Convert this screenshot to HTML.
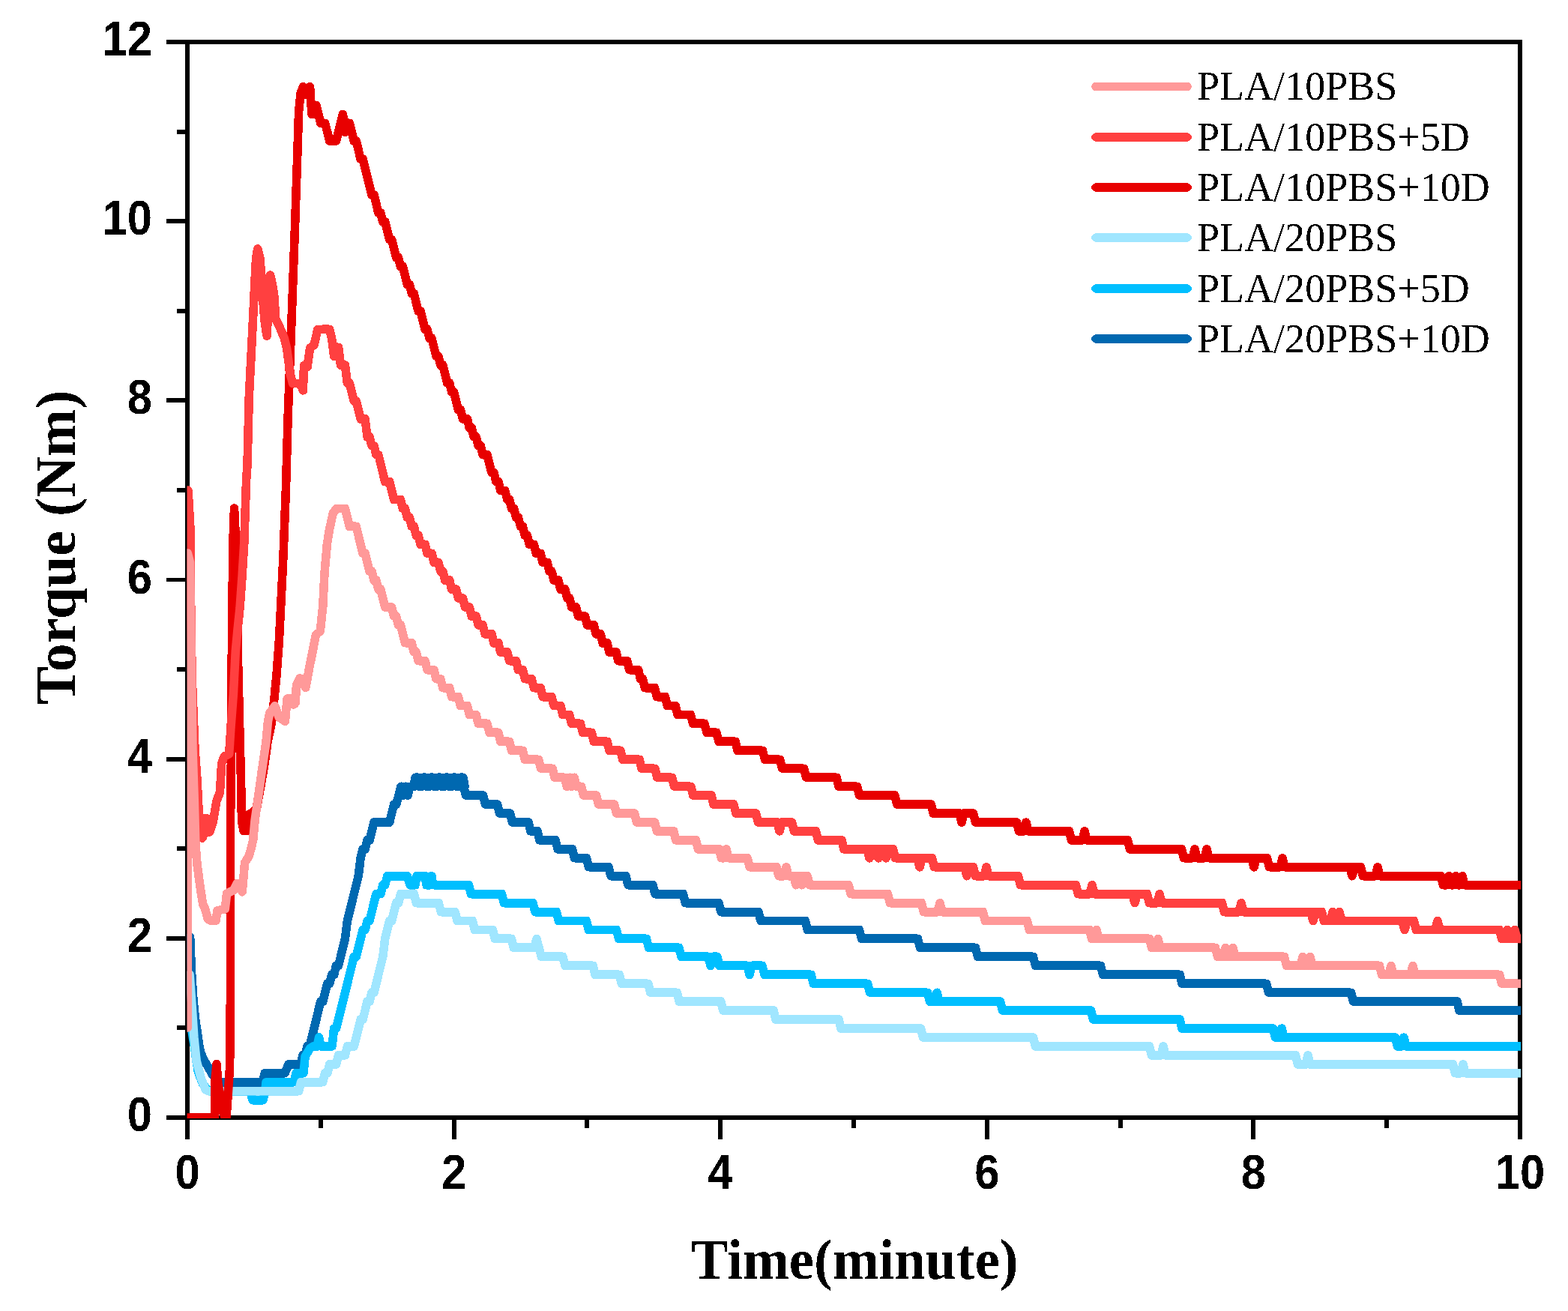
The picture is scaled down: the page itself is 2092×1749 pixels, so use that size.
<!DOCTYPE html>
<html><head><meta charset="utf-8"><title>Torque vs Time</title>
<style>html,body{margin:0;padding:0;background:#fff;}svg{display:block;}</style>
</head><body><svg width="2092" height="1749" viewBox="0 0 2092 1749"><defs><clipPath id="pc"><rect x="249.5" y="50" width="1779.5" height="1442"/></clipPath><filter id="bin" filterUnits="userSpaceOnUse" x="0" y="0" width="2092" height="1749"><feComponentTransfer><feFuncA type="discrete" tableValues="0 1"/></feComponentTransfer></filter></defs><rect width="2092" height="1749" fill="#fff"/><g filter="url(#bin)"><rect x="250" y="56" width="1778" height="1435" fill="none" stroke="#000" stroke-width="6"/><line x1="222" y1="1491.0" x2="247" y2="1491.0" stroke="#000" stroke-width="6"/><line x1="236" y1="1371.4" x2="247" y2="1371.4" stroke="#000" stroke-width="6"/><line x1="222" y1="1251.8" x2="247" y2="1251.8" stroke="#000" stroke-width="6"/><line x1="236" y1="1132.2" x2="247" y2="1132.2" stroke="#000" stroke-width="6"/><line x1="222" y1="1012.7" x2="247" y2="1012.7" stroke="#000" stroke-width="6"/><line x1="236" y1="893.1" x2="247" y2="893.1" stroke="#000" stroke-width="6"/><line x1="222" y1="773.5" x2="247" y2="773.5" stroke="#000" stroke-width="6"/><line x1="236" y1="653.9" x2="247" y2="653.9" stroke="#000" stroke-width="6"/><line x1="222" y1="534.3" x2="247" y2="534.3" stroke="#000" stroke-width="6"/><line x1="236" y1="414.8" x2="247" y2="414.8" stroke="#000" stroke-width="6"/><line x1="222" y1="295.2" x2="247" y2="295.2" stroke="#000" stroke-width="6"/><line x1="236" y1="175.6" x2="247" y2="175.6" stroke="#000" stroke-width="6"/><line x1="222" y1="56.0" x2="247" y2="56.0" stroke="#000" stroke-width="6"/><line x1="250.0" y1="1494" x2="250.0" y2="1520" stroke="#000" stroke-width="6"/><line x1="427.8" y1="1494" x2="427.8" y2="1505" stroke="#000" stroke-width="6"/><line x1="605.6" y1="1494" x2="605.6" y2="1520" stroke="#000" stroke-width="6"/><line x1="783.4" y1="1494" x2="783.4" y2="1505" stroke="#000" stroke-width="6"/><line x1="961.2" y1="1494" x2="961.2" y2="1520" stroke="#000" stroke-width="6"/><line x1="1139.0" y1="1494" x2="1139.0" y2="1505" stroke="#000" stroke-width="6"/><line x1="1316.8" y1="1494" x2="1316.8" y2="1520" stroke="#000" stroke-width="6"/><line x1="1494.6" y1="1494" x2="1494.6" y2="1505" stroke="#000" stroke-width="6"/><line x1="1672.4" y1="1494" x2="1672.4" y2="1520" stroke="#000" stroke-width="6"/><line x1="1850.2" y1="1494" x2="1850.2" y2="1505" stroke="#000" stroke-width="6"/><line x1="2028.0" y1="1494" x2="2028.0" y2="1520" stroke="#000" stroke-width="6"/><text transform="translate(203,1509.0) scale(0.98,1.05)" text-anchor="end" font-family="Liberation Sans, Arial, sans-serif" font-weight="bold" font-size="61">0</text><text transform="translate(203,1269.8) scale(0.98,1.05)" text-anchor="end" font-family="Liberation Sans, Arial, sans-serif" font-weight="bold" font-size="61">2</text><text transform="translate(203,1030.7) scale(0.98,1.05)" text-anchor="end" font-family="Liberation Sans, Arial, sans-serif" font-weight="bold" font-size="61">4</text><text transform="translate(203,791.5) scale(0.98,1.05)" text-anchor="end" font-family="Liberation Sans, Arial, sans-serif" font-weight="bold" font-size="61">6</text><text transform="translate(203,552.3) scale(0.98,1.05)" text-anchor="end" font-family="Liberation Sans, Arial, sans-serif" font-weight="bold" font-size="61">8</text><text transform="translate(203,313.2) scale(0.98,1.05)" text-anchor="end" font-family="Liberation Sans, Arial, sans-serif" font-weight="bold" font-size="61">10</text><text transform="translate(203,74.0) scale(0.98,1.05)" text-anchor="end" font-family="Liberation Sans, Arial, sans-serif" font-weight="bold" font-size="61">12</text><text transform="translate(250.0,1586) scale(0.98,1.05)" text-anchor="middle" font-family="Liberation Sans, Arial, sans-serif" font-weight="bold" font-size="61">0</text><text transform="translate(605.6,1586) scale(0.98,1.05)" text-anchor="middle" font-family="Liberation Sans, Arial, sans-serif" font-weight="bold" font-size="61">2</text><text transform="translate(961.2,1586) scale(0.98,1.05)" text-anchor="middle" font-family="Liberation Sans, Arial, sans-serif" font-weight="bold" font-size="61">4</text><text transform="translate(1316.8,1586) scale(0.98,1.05)" text-anchor="middle" font-family="Liberation Sans, Arial, sans-serif" font-weight="bold" font-size="61">6</text><text transform="translate(1672.4,1586) scale(0.98,1.05)" text-anchor="middle" font-family="Liberation Sans, Arial, sans-serif" font-weight="bold" font-size="61">8</text><text transform="translate(2028.0,1586) scale(0.98,1.05)" text-anchor="middle" font-family="Liberation Sans, Arial, sans-serif" font-weight="bold" font-size="61">10</text><text transform="translate(1140.25,1706) scale(0.966,1)" text-anchor="middle" font-family="Liberation Serif, Times New Roman, serif" font-weight="bold" font-size="77">Time(minute)</text><text transform="translate(100,730.3) rotate(-90) scale(0.985,1)" text-anchor="middle" font-family="Liberation Serif, Times New Roman, serif" font-weight="bold" font-size="77">Torque (Nm)</text><g clip-path="url(#pc)"><path d="M253.6 1250.0 L255.4 1295.0 L257.7 1331.0 L260.5 1359.0 L263.2 1377.0 L265.9 1396.0 L268.0 1405.0 L272.0 1414.0 L278.0 1424.0 L283.0 1433.0 L288.0 1440.0 L292.0 1443.8 L350.2 1443.8 L353.2 1431.8 L380.0 1431.8 L385.0 1419.9 L399.5 1419.9 L401.1 1419.9 L404.1 1407.9 L407.1 1407.9 L410.0 1395.9 L413.0 1395.9 L415.9 1384.0 L418.9 1372.0 L421.9 1360.1 L424.8 1348.1 L427.8 1336.1 L430.8 1336.1 L433.7 1324.2 L436.7 1312.2 L439.7 1312.2 L442.6 1300.3 L445.6 1300.3 L448.5 1288.3 L451.5 1288.3 L454.5 1276.4 L457.4 1264.4 L460.4 1252.4 L463.4 1228.5 L466.3 1216.6 L469.3 1204.6 L472.2 1192.6 L475.2 1180.7 L478.2 1168.7 L481.1 1144.8 L484.1 1132.9 L487.1 1132.9 L490.0 1120.9 L493.0 1120.9 L496.0 1108.9 L498.9 1097.0 L501.9 1097.0 L504.8 1097.0 L507.8 1097.0 L510.8 1097.0 L513.7 1097.0 L516.7 1097.0 L519.7 1097.0 L522.6 1085.0 L525.6 1073.1 L528.6 1073.1 L532.0 1061.1 L535.0 1049.2 L538.0 1061.1 L541.0 1049.2 L544.0 1061.1 L547.0 1049.2 L550.0 1049.2 L552.0 1049.2 L554.0 1037.2 L558.0 1037.2 L560.0 1049.2 L562.0 1049.2 L564.0 1037.2 L568.0 1037.2 L570.0 1049.2 L572.0 1049.2 L574.0 1037.2 L578.0 1037.2 L580.0 1049.2 L582.0 1049.2 L584.0 1037.2 L588.0 1037.2 L590.0 1049.2 L592.0 1049.2 L594.0 1037.2 L598.0 1037.2 L600.0 1049.2 L602.0 1049.2 L604.0 1037.2 L608.0 1037.2 L610.0 1049.2 L612.0 1049.2 L614.0 1037.2 L618.0 1037.2 L620.0 1049.2 L620.0 1049.2 L618.5 1049.2 L621.5 1061.1 L644.5 1061.1 L647.5 1073.1 L663.5 1073.1 L666.5 1085.0 L680.5 1085.0 L683.5 1097.0 L705.0 1097.0 L708.0 1108.9 L717.0 1108.9 L720.0 1120.9 L741.1 1120.9 L744.1 1132.9 L763.5 1132.9 L766.5 1144.8 L782.5 1144.8 L785.5 1156.8 L812.0 1156.8 L815.0 1168.7 L835.0 1168.7 L838.0 1180.7 L871.0 1180.7 L874.0 1192.6 L911.5 1192.6 L914.5 1204.6 L959.0 1204.6 L962.0 1216.6 L1012.0 1216.6 L1015.0 1228.5 L1074.5 1228.5 L1077.5 1240.5 L1146.5 1240.5 L1149.5 1252.4 L1224.5 1252.4 L1227.5 1264.4 L1301.5 1264.4 L1304.5 1276.4 L1378.5 1276.4 L1381.5 1288.3 L1468.5 1288.3 L1471.5 1300.3 L1574.1 1300.3 L1577.1 1312.2 L1689.5 1312.2 L1692.5 1324.2 L1802.5 1324.2 L1805.5 1336.1 L1944.0 1336.1 L1947.0 1348.1 L2032.0 1348.1" fill="none" stroke="#0068B0" stroke-width="11.6" stroke-linejoin="round" stroke-linecap="round"/><path d="M256.0 1375.0 L257.5 1385.0 L260.0 1400.0 L264.4 1430.0 L270.5 1446.0 L276.0 1453.0 L282.0 1455.7 L334.0 1455.7 L337.0 1467.7 L351.0 1467.7 L354.0 1455.7 L355.0 1443.8 L392.0 1443.8 L395.0 1431.8 L405.0 1431.8 L407.1 1409.5 L413.6 1398.6 L418.0 1395.9 L423.0 1395.9 L425.6 1384.0 L428.0 1395.9 L443.0 1395.9 L445.6 1372.0 L448.5 1372.0 L451.5 1360.1 L454.5 1348.1 L457.4 1336.1 L460.4 1324.2 L463.4 1312.2 L466.3 1300.3 L469.3 1288.3 L472.2 1276.4 L475.2 1276.4 L478.2 1264.4 L481.1 1252.4 L484.1 1240.5 L487.1 1240.5 L490.0 1228.5 L493.0 1228.5 L496.0 1216.6 L498.9 1204.6 L501.9 1192.6 L504.8 1192.6 L507.8 1192.6 L510.8 1180.7 L513.7 1180.7 L516.7 1168.7 L519.7 1168.7 L522.6 1168.7 L525.6 1168.7 L528.6 1168.7 L531.5 1168.7 L534.5 1168.7 L537.4 1168.7 L540.4 1168.7 L543.4 1168.7 L547.0 1180.7 L554.0 1180.7 L556.0 1168.7 L567.0 1168.7 L569.0 1180.7 L574.0 1180.7 L576.0 1168.7 L575.3 1168.7 L578.3 1180.7 L625.5 1180.7 L628.5 1192.6 L669.5 1192.6 L672.5 1204.6 L711.0 1204.6 L714.0 1216.6 L742.5 1216.6 L745.5 1228.5 L782.5 1228.5 L785.5 1240.5 L822.5 1240.5 L825.5 1252.4 L862.5 1252.4 L865.5 1264.4 L906.0 1264.4 L909.0 1276.4 L945.0 1276.4 L948.0 1288.3 L951.0 1276.4 L956.8 1276.4 L959.8 1288.3 L997.0 1288.3 L1000.0 1300.3 L1003.0 1288.3 L1017.0 1288.3 L1020.0 1300.3 L1082.2 1300.3 L1085.2 1312.2 L1157.5 1312.2 L1160.5 1324.2 L1237.5 1324.2 L1240.5 1336.1 L1247.0 1336.1 L1250.0 1324.2 L1253.0 1336.1 L1334.5 1336.1 L1337.5 1348.1 L1455.5 1348.1 L1458.5 1360.1 L1574.1 1360.1 L1577.1 1372.0 L1698.5 1372.0 L1701.5 1384.0 L1707.0 1384.0 L1710.0 1372.0 L1713.0 1384.0 L1861.5 1384.0 L1864.5 1395.9 L1870.0 1395.9 L1873.0 1384.0 L1876.0 1395.9 L2032.0 1395.9" fill="none" stroke="#00BFFF" stroke-width="11.6" stroke-linejoin="round" stroke-linecap="round"/><path d="M253.0 1300.0 L255.8 1338.0 L258.9 1384.0 L262.0 1415.0 L268.1 1438.0 L274.3 1453.8 L278.0 1455.7 L398.5 1455.7 L401.5 1443.8 L430.5 1443.8 L433.5 1431.8 L436.7 1431.8 L439.7 1419.9 L442.6 1419.9 L445.6 1419.9 L448.5 1419.9 L451.5 1407.9 L454.5 1407.9 L457.4 1407.9 L460.4 1407.9 L463.4 1395.9 L466.3 1395.9 L469.3 1395.9 L472.2 1395.9 L475.2 1384.0 L478.2 1372.0 L481.1 1360.1 L484.1 1360.1 L487.1 1348.1 L490.0 1336.1 L493.0 1336.1 L496.0 1324.2 L498.9 1324.2 L501.9 1312.2 L504.8 1300.3 L507.8 1288.3 L510.8 1276.4 L513.7 1252.4 L516.7 1240.5 L519.7 1228.5 L522.6 1228.5 L525.6 1216.6 L528.6 1204.6 L531.5 1204.6 L534.5 1192.6 L537.4 1192.6 L540.4 1192.6 L543.4 1192.6 L546.3 1192.6 L549.3 1192.6 L552.5 1192.6 L555.5 1204.6 L585.3 1204.6 L588.3 1216.6 L607.1 1216.6 L610.1 1228.5 L630.5 1228.5 L633.5 1240.5 L657.3 1240.5 L660.3 1252.4 L682.4 1252.4 L685.4 1264.4 L713.0 1264.4 L716.0 1252.4 L719.0 1264.4 L719.2 1264.4 L722.2 1276.4 L751.0 1276.4 L754.0 1288.3 L791.1 1288.3 L794.1 1300.3 L826.3 1300.3 L829.3 1312.2 L864.7 1312.2 L867.7 1324.2 L903.2 1324.2 L906.2 1336.1 L961.8 1336.1 L964.8 1348.1 L1032.0 1348.1 L1035.0 1360.1 L1119.0 1360.1 L1122.0 1372.0 L1228.5 1372.0 L1231.5 1384.0 L1378.5 1384.0 L1381.5 1395.9 L1533.5 1395.9 L1536.5 1407.9 L1549.0 1407.9 L1552.0 1395.9 L1555.0 1407.9 L1728.5 1407.9 L1731.5 1419.9 L1742.0 1419.9 L1745.0 1407.9 L1748.0 1419.9 L1938.5 1419.9 L1941.5 1431.8 L1949.0 1431.8 L1952.0 1419.9 L1955.0 1431.8 L2032.0 1431.8" fill="none" stroke="#A0E6FF" stroke-width="11.6" stroke-linejoin="round" stroke-linecap="round"/><path d="M250.0 1491.0 L286.5 1491.0 L287.0 1440.0 L289.0 1419.5 L291.0 1446.0 L293.4 1461.0 L297.0 1480.0 L300.0 1491.0 L302.0 1491.0 L304.5 1455.0 L306.5 1425.0 L307.2 1380.0 L307.4 1300.0 L307.5 1100.0 L308.5 1000.0 L309.5 840.0 L311.0 720.0 L312.5 678.0 L314.5 720.0 L316.0 800.0 L317.5 880.0 L320.0 983.0 L321.5 1040.0 L322.5 1095.0 L325.0 1108.5 L329.0 1108.5 L331.0 1100.0 L333.0 1086.0 L337.0 1084.0 L342.3 1078.0 L348.0 1048.0 L352.8 1020.0 L357.0 990.0 L362.0 966.0 L365.5 935.8 L368.9 901.5 L372.3 855.8 L374.6 810.0 L378.0 741.5 L381.5 650.0 L384.0 560.0 L387.0 480.0 L390.0 400.0 L393.6 300.0 L396.4 217.0 L398.6 149.0 L401.0 125.0 L404.4 115.5 L407.8 126.0 L411.0 118.0 L413.5 115.5 L415.9 152.3 L418.9 152.3 L421.9 140.3 L424.8 152.3 L427.8 164.3 L430.8 164.3 L433.7 164.3 L436.7 176.2 L439.7 188.2 L442.6 188.2 L445.6 188.2 L448.5 188.2 L451.5 176.2 L454.5 164.3 L457.4 152.3 L460.4 176.2 L463.4 164.3 L466.3 164.3 L469.3 176.2 L472.2 188.2 L475.2 188.2 L478.2 200.1 L481.1 212.1 L484.1 212.1 L487.1 224.1 L490.0 236.0 L493.0 248.0 L496.0 259.9 L498.9 259.9 L501.9 271.9 L504.8 283.8 L507.8 283.8 L510.8 295.8 L513.7 295.8 L516.7 307.8 L519.7 319.7 L522.6 319.7 L525.6 331.7 L528.6 343.6 L531.5 343.6 L534.5 355.6 L537.4 355.6 L540.4 367.5 L543.4 379.5 L546.3 379.5 L549.3 391.5 L552.3 391.5 L555.2 403.4 L558.2 415.4 L561.1 415.4 L564.1 427.3 L567.1 439.3 L570.0 439.3 L573.0 451.3 L576.0 451.3 L578.9 463.2 L581.9 475.2 L584.9 475.2 L587.8 487.1 L590.8 487.1 L593.7 499.1 L596.7 511.0 L599.7 511.0 L602.6 523.0 L605.6 523.0 L608.6 535.0 L611.5 546.9 L614.5 546.9 L617.5 558.9 L620.4 558.9 L623.4 558.9 L626.3 570.8 L629.3 570.8 L632.3 582.8 L635.2 582.8 L638.2 594.7 L641.2 594.7 L644.1 606.7 L647.1 606.7 L650.0 606.7 L653.0 618.7 L656.0 630.6 L658.9 630.6 L661.9 642.6 L664.9 642.6 L667.8 654.5 L670.8 654.5 L673.8 654.5 L676.7 666.5 L679.7 666.5 L682.6 678.5 L685.6 678.5 L688.6 690.4 L691.5 690.4 L694.5 702.4 L697.5 702.4 L700.4 714.3 L703.4 714.3 L706.4 726.3 L709.3 726.3 L712.3 726.3 L715.2 738.2 L718.2 738.2 L721.2 738.2 L724.1 750.2 L727.1 750.2 L730.1 750.2 L733.0 762.2 L736.0 762.2 L739.0 774.1 L741.9 774.1 L744.9 774.1 L747.8 786.1 L750.8 786.1 L753.8 786.1 L756.7 798.0 L759.7 798.0 L762.7 810.0 L765.6 810.0 L768.6 810.0 L771.5 822.0 L774.5 822.0 L777.5 822.0 L780.4 822.0 L783.4 833.9 L786.4 833.9 L789.3 833.9 L792.3 833.9 L795.3 845.9 L798.2 845.9 L801.2 845.9 L804.1 857.8 L807.1 857.8 L810.1 857.8 L813.0 869.8 L816.0 869.8 L819.0 869.8 L821.9 869.8 L824.9 881.7 L827.9 881.7 L830.8 881.7 L833.8 881.7 L836.7 881.7 L839.7 893.7 L842.7 893.7 L845.6 893.7 L848.6 893.7 L851.6 893.7 L854.5 905.7 L857.5 905.7 L860.5 917.6 L873.5 917.6 L876.5 929.6 L887.5 929.6 L890.5 941.5 L901.1 941.5 L904.1 953.5 L921.5 953.5 L924.5 965.4 L940.0 965.4 L943.0 977.4 L956.0 977.4 L959.0 989.4 L981.1 989.4 L984.1 1001.3 L1017.5 1001.3 L1020.5 1013.3 L1040.5 1013.3 L1043.5 1025.2 L1072.5 1025.2 L1075.5 1037.2 L1116.1 1037.2 L1119.1 1049.2 L1143.5 1049.2 L1146.5 1061.1 L1193.8 1061.1 L1196.8 1073.1 L1242.2 1073.1 L1245.2 1085.0 L1280.0 1085.0 L1283.0 1097.0 L1286.0 1085.0 L1298.5 1085.0 L1301.5 1097.0 L1356.5 1097.0 L1359.5 1108.9 L1366.0 1108.9 L1369.0 1097.0 L1372.0 1108.9 L1426.5 1108.9 L1429.5 1120.9 L1444.0 1120.9 L1447.0 1108.9 L1450.0 1120.9 L1504.5 1120.9 L1507.5 1132.9 L1576.5 1132.9 L1579.5 1144.8 L1591.0 1144.8 L1594.0 1132.9 L1597.0 1144.8 L1607.0 1144.8 L1610.0 1132.9 L1613.0 1144.8 L1670.0 1144.8 L1673.0 1156.8 L1676.0 1144.8 L1690.5 1144.8 L1693.5 1156.8 L1708.0 1156.8 L1711.0 1144.8 L1714.0 1156.8 L1801.0 1156.8 L1804.0 1168.7 L1807.0 1156.8 L1815.5 1156.8 L1818.5 1168.7 L1835.0 1168.7 L1838.0 1156.8 L1841.0 1168.7 L1922.5 1168.7 L1925.5 1180.7 L1930.0 1180.7 L1933.0 1168.7 L1936.0 1180.7 L1939.0 1180.7 L1942.0 1168.7 L1945.0 1180.7 L1948.0 1180.7 L1951.0 1168.7 L1954.0 1180.7 L2032.0 1180.7" fill="none" stroke="#E80000" stroke-width="11.6" stroke-linejoin="round" stroke-linecap="round"/><path d="M251.0 654.0 L253.7 700.0 L254.5 800.0 L256.0 900.0 L260.0 1000.0 L263.0 1040.0 L265.0 1080.0 L268.0 1110.0 L270.0 1118.0 L273.0 1110.0 L275.2 1091.5 L279.7 1109.8 L284.3 1096.0 L288.9 1068.6 L293.4 1057.2 L295.7 1018.3 L299.2 1009.0 L303.7 1006.9 L305.7 1005.7 L308.0 970.0 L311.4 925.7 L314.3 868.6 L317.0 840.0 L320.0 811.4 L323.0 770.0 L325.7 725.7 L328.6 640.0 L330.0 620.0 L332.3 528.7 L335.8 460.0 L339.2 391.5 L341.5 345.7 L343.8 332.0 L347.0 345.0 L350.0 390.0 L353.0 428.0 L356.0 448.0 L358.0 410.0 L359.5 375.0 L360.5 367.0 L362.5 375.0 L365.5 391.5 L367.8 425.8 L373.5 437.2 L379.2 451.0 L382.6 464.6 L387.2 499.0 L390.6 511.5 L398.6 511.5 L402.0 515.0 L404.4 520.9 L405.5 487.5 L410.0 489.8 L413.5 464.6 L419.2 460.0 L423.8 439.5 L430.6 439.3 L433.7 439.3 L436.7 439.3 L439.7 439.3 L442.6 451.3 L445.6 475.2 L448.5 463.2 L451.5 463.2 L454.5 487.1 L457.4 487.1 L460.4 487.1 L463.4 511.0 L466.3 511.0 L469.3 523.0 L472.2 535.0 L475.2 535.0 L478.2 546.9 L481.1 558.9 L484.1 558.9 L487.1 558.9 L490.0 582.8 L493.0 582.8 L496.0 594.7 L498.9 594.7 L501.9 606.7 L504.8 606.7 L507.8 618.7 L510.8 630.6 L513.7 642.6 L516.7 642.6 L519.7 642.6 L522.6 654.5 L525.6 666.5 L528.6 666.5 L531.5 666.5 L534.5 666.5 L537.4 678.5 L540.4 678.5 L543.4 690.4 L546.3 690.4 L549.3 702.4 L552.3 702.4 L555.2 714.3 L558.2 714.3 L561.1 726.3 L564.1 726.3 L567.1 726.3 L570.0 738.2 L573.0 738.2 L576.0 738.2 L578.9 750.2 L581.9 750.2 L584.9 750.2 L587.8 762.2 L590.8 762.2 L593.7 774.1 L596.7 774.1 L599.7 774.1 L602.6 786.1 L605.6 786.1 L608.6 786.1 L611.5 798.0 L614.5 798.0 L617.5 798.0 L620.4 810.0 L623.4 810.0 L626.3 810.0 L629.3 822.0 L632.3 822.0 L635.2 822.0 L638.2 833.9 L641.2 833.9 L644.1 833.9 L647.1 845.9 L650.0 845.9 L653.0 845.9 L656.0 845.9 L658.9 857.8 L661.9 857.8 L664.9 857.8 L667.8 869.8 L670.8 869.8 L673.8 869.8 L676.7 869.8 L679.7 881.7 L682.6 881.7 L685.6 881.7 L688.6 881.7 L691.5 893.7 L694.5 893.7 L697.5 893.7 L700.4 905.7 L703.4 905.7 L706.4 905.7 L709.3 905.7 L712.3 917.6 L715.2 917.6 L718.2 917.6 L721.2 917.6 L724.1 929.6 L727.1 929.6 L730.1 929.6 L733.0 929.6 L736.0 929.6 L739.0 941.5 L741.9 941.5 L744.9 941.5 L747.8 941.5 L750.8 953.5 L753.8 953.5 L756.7 953.5 L759.7 953.5 L762.7 965.4 L765.6 965.4 L768.6 965.4 L771.5 965.4 L774.5 965.4 L777.5 977.4 L780.4 977.4 L783.4 977.4 L786.4 977.4 L789.3 977.4 L792.3 989.4 L795.3 989.4 L798.2 989.4 L801.2 989.4 L804.1 989.4 L807.1 989.4 L810.1 989.4 L813.0 1001.3 L816.0 1001.3 L819.0 1001.3 L821.9 1001.3 L824.9 1001.3 L827.9 1001.3 L830.8 1013.3 L833.8 1013.3 L836.7 1013.3 L839.7 1013.3 L842.7 1013.3 L845.6 1013.3 L848.6 1013.3 L851.6 1013.3 L853.1 1013.3 L856.1 1025.2 L873.7 1025.2 L876.7 1037.2 L896.5 1037.2 L899.5 1049.2 L921.7 1049.2 L924.7 1061.1 L949.1 1061.1 L952.1 1073.1 L978.9 1073.1 L981.9 1085.0 L1008.5 1085.0 L1011.5 1097.0 L1037.0 1097.0 L1040.0 1108.9 L1043.0 1097.0 L1056.5 1097.0 L1059.5 1108.9 L1088.5 1108.9 L1091.5 1120.9 L1122.9 1120.9 L1125.9 1132.9 L1157.0 1132.9 L1160.0 1144.8 L1163.0 1132.9 L1169.0 1132.9 L1172.0 1144.8 L1175.0 1132.9 L1179.0 1132.9 L1182.0 1144.8 L1185.0 1132.9 L1191.5 1132.9 L1194.5 1144.8 L1224.0 1144.8 L1227.0 1156.8 L1230.0 1144.8 L1243.5 1144.8 L1246.5 1156.8 L1287.0 1156.8 L1290.0 1168.7 L1293.0 1156.8 L1298.5 1156.8 L1301.5 1168.7 L1313.0 1168.7 L1316.0 1156.8 L1319.0 1168.7 L1358.5 1168.7 L1361.5 1180.7 L1435.5 1180.7 L1438.5 1192.6 L1454.0 1192.6 L1457.0 1180.7 L1460.0 1192.6 L1511.0 1192.6 L1514.0 1204.6 L1517.0 1192.6 L1530.5 1192.6 L1533.5 1204.6 L1544.0 1204.6 L1547.0 1192.6 L1550.0 1204.6 L1630.5 1204.6 L1633.5 1216.6 L1653.0 1216.6 L1656.0 1204.6 L1659.0 1216.6 L1749.0 1216.6 L1752.0 1228.5 L1755.0 1216.6 L1763.5 1216.6 L1766.5 1228.5 L1775.0 1228.5 L1778.0 1216.6 L1781.0 1228.5 L1784.0 1228.5 L1787.0 1216.6 L1790.0 1228.5 L1871.0 1228.5 L1874.0 1240.5 L1877.0 1228.5 L1886.5 1228.5 L1889.5 1240.5 L1915.0 1240.5 L1918.0 1228.5 L1921.0 1240.5 L2000.5 1240.5 L2003.5 1252.4 L2008.0 1252.4 L2011.0 1240.5 L2014.0 1252.4 L2018.0 1252.4 L2021.0 1240.5 L2024.0 1252.4 L2032.0 1252.4" fill="none" stroke="#FF4040" stroke-width="11.6" stroke-linejoin="round" stroke-linecap="round"/><path d="M250.3 1371.0 L250.3 738.0 L253.5 750.0 L255.0 850.0 L257.0 1000.0 L259.0 1060.0 L260.8 1124.0 L263.0 1153.0 L267.0 1183.0 L270.6 1205.8 L273.7 1212.8 L277.0 1225.0 L280.0 1228.0 L288.0 1228.0 L290.0 1215.0 L300.3 1212.7 L302.6 1192.0 L311.7 1187.5 L316.3 1178.4 L321.0 1185.0 L323.2 1189.8 L326.6 1151.0 L332.3 1141.8 L336.0 1128.0 L337.8 1120.0 L340.0 1095.0 L343.3 1072.0 L349.0 1031.0 L352.0 1010.0 L355.0 990.0 L357.5 962.0 L360.0 951.0 L363.0 947.0 L366.7 941.7 L372.1 956.8 L380.4 962.3 L383.1 932.1 L388.6 932.1 L392.0 940.0 L394.1 937.6 L395.5 914.3 L400.0 904.7 L403.0 906.0 L407.8 917.5 L412.4 892.4 L417.0 869.5 L421.5 846.7 L427.2 842.0 L430.7 810.0 L433.0 764.3 L436.4 725.5 L439.8 704.9 L444.4 684.3 L449.0 678.4 L451.5 678.5 L454.5 678.5 L457.4 678.5 L460.4 678.5 L463.4 690.4 L466.3 702.4 L469.3 702.4 L472.2 702.4 L475.2 702.4 L478.2 714.3 L481.1 726.3 L484.1 738.2 L487.1 738.2 L490.0 750.2 L493.0 762.2 L496.0 762.2 L498.9 774.1 L501.9 774.1 L504.8 786.1 L507.8 786.1 L510.8 798.0 L513.7 810.0 L516.7 810.0 L519.7 810.0 L522.6 810.0 L525.6 822.0 L528.6 822.0 L531.5 833.9 L534.5 833.9 L537.4 845.9 L540.4 857.8 L543.4 857.8 L546.3 857.8 L549.3 857.8 L552.3 869.8 L555.2 869.8 L558.2 881.7 L561.1 881.7 L564.1 881.7 L567.1 881.7 L570.0 893.7 L573.0 893.7 L576.0 893.7 L578.9 893.7 L581.9 905.7 L584.9 905.7 L587.8 905.7 L590.8 917.6 L593.7 917.6 L596.7 917.6 L599.7 917.6 L602.6 929.6 L605.6 929.6 L608.6 929.6 L611.5 929.6 L614.5 941.5 L617.5 941.5 L620.4 941.5 L623.4 941.5 L626.3 953.5 L629.3 953.5 L632.3 953.5 L635.2 953.5 L638.2 965.4 L641.2 965.4 L644.1 965.4 L647.1 965.4 L650.0 965.4 L653.0 977.4 L656.0 977.4 L658.9 977.4 L661.9 977.4 L664.9 977.4 L667.8 989.4 L670.8 989.4 L673.8 989.4 L676.7 989.4 L679.7 989.4 L682.6 1001.3 L685.6 1001.3 L688.6 1001.3 L691.5 1001.3 L694.5 1001.3 L697.5 1001.3 L700.4 1013.3 L703.4 1013.3 L706.4 1013.3 L709.3 1013.3 L712.3 1013.3 L715.2 1013.3 L718.5 1013.3 L721.5 1025.2 L737.0 1025.2 L740.0 1037.2 L753.2 1037.2 L756.2 1049.2 L757.0 1049.2 L760.0 1037.2 L763.0 1049.2 L763.0 1049.2 L766.0 1037.2 L769.0 1049.2 L775.5 1049.2 L778.5 1061.1 L795.5 1061.1 L798.5 1073.1 L819.5 1073.1 L822.5 1085.0 L846.5 1085.0 L849.5 1097.0 L873.5 1097.0 L876.5 1108.9 L898.8 1108.9 L901.8 1120.9 L928.5 1120.9 L931.5 1132.9 L959.5 1132.9 L962.5 1144.8 L966.0 1144.8 L969.0 1132.9 L972.0 1144.8 L997.2 1144.8 L1000.2 1156.8 L1036.0 1156.8 L1039.0 1168.7 L1046.0 1168.7 L1049.0 1156.8 L1052.0 1168.7 L1059.0 1168.7 L1062.0 1180.7 L1065.0 1168.7 L1067.0 1168.7 L1070.0 1180.7 L1073.0 1168.7 L1077.2 1168.7 L1080.2 1180.7 L1132.2 1180.7 L1135.2 1192.6 L1184.5 1192.6 L1187.5 1204.6 L1229.5 1204.6 L1232.5 1216.6 L1251.0 1216.6 L1254.0 1204.6 L1257.0 1216.6 L1311.5 1216.6 L1314.5 1228.5 L1370.5 1228.5 L1373.5 1240.5 L1453.5 1240.5 L1456.5 1252.4 L1460.0 1252.4 L1463.0 1240.5 L1466.0 1252.4 L1533.5 1252.4 L1536.5 1264.4 L1542.0 1264.4 L1545.0 1252.4 L1548.0 1264.4 L1621.5 1264.4 L1624.5 1276.4 L1632.0 1276.4 L1635.0 1264.4 L1638.0 1276.4 L1642.0 1276.4 L1645.0 1264.4 L1648.0 1276.4 L1713.5 1276.4 L1716.5 1288.3 L1735.0 1288.3 L1738.0 1276.4 L1741.0 1288.3 L1745.0 1288.3 L1748.0 1276.4 L1751.0 1288.3 L1840.5 1288.3 L1843.5 1300.3 L1853.0 1300.3 L1856.0 1288.3 L1859.0 1300.3 L1882.0 1300.3 L1885.0 1288.3 L1888.0 1300.3 L2000.5 1300.3 L2003.5 1312.2 L2032.0 1312.2" fill="none" stroke="#FF9999" stroke-width="11.6" stroke-linejoin="round" stroke-linecap="round"/></g><line x1="1462" y1="115.5" x2="1584" y2="115.5" stroke="#FF9999" stroke-width="11.6" stroke-linecap="round"/><text transform="translate(1597,133.2) scale(0.983,1)" font-family="Liberation Serif, Times New Roman, serif" font-size="55">PLA/10PBS</text><line x1="1462" y1="183.0" x2="1584" y2="183.0" stroke="#FF4040" stroke-width="11.6" stroke-linecap="round"/><text transform="translate(1597,200.7) scale(0.983,1)" font-family="Liberation Serif, Times New Roman, serif" font-size="55">PLA/10PBS+5D</text><line x1="1462" y1="250.0" x2="1584" y2="250.0" stroke="#E80000" stroke-width="11.6" stroke-linecap="round"/><text transform="translate(1597,267.7) scale(0.983,1)" font-family="Liberation Serif, Times New Roman, serif" font-size="55">PLA/10PBS+10D</text><line x1="1462" y1="317.0" x2="1584" y2="317.0" stroke="#A0E6FF" stroke-width="11.6" stroke-linecap="round"/><text transform="translate(1597,334.7) scale(0.983,1)" font-family="Liberation Serif, Times New Roman, serif" font-size="55">PLA/20PBS</text><line x1="1462" y1="385.0" x2="1584" y2="385.0" stroke="#00BFFF" stroke-width="11.6" stroke-linecap="round"/><text transform="translate(1597,402.7) scale(0.983,1)" font-family="Liberation Serif, Times New Roman, serif" font-size="55">PLA/20PBS+5D</text><line x1="1462" y1="452.0" x2="1584" y2="452.0" stroke="#0068B0" stroke-width="11.6" stroke-linecap="round"/><text transform="translate(1597,469.7) scale(0.983,1)" font-family="Liberation Serif, Times New Roman, serif" font-size="55">PLA/20PBS+10D</text></g></svg></body></html>
